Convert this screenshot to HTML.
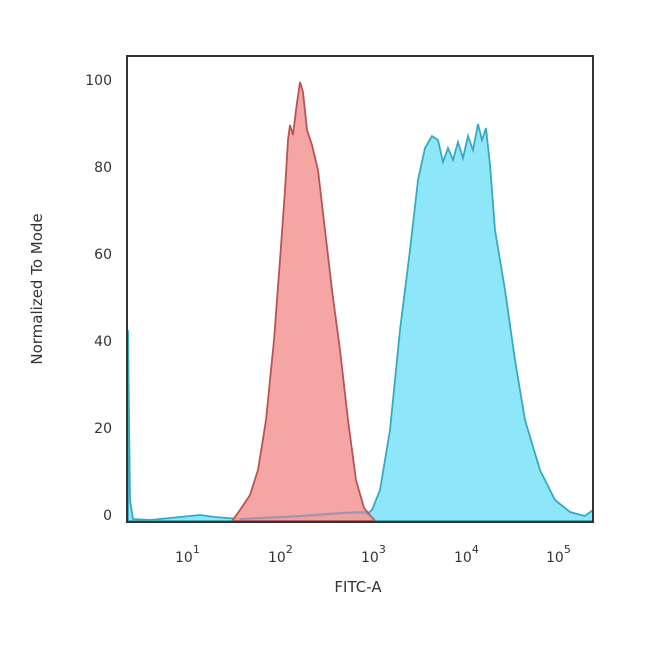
<!DOCTYPE html>
<html><head><style>body{margin:0;background:#fff}svg{display:block}text{font-family:"DejaVu Sans","Liberation Sans",sans-serif;fill:#333}</style></head>
<body>
<svg width="650" height="652" viewBox="0 0 650 652">
<!-- blue -->
<path d="M128,521 L128,330 L130,500 L133,519 L150,520 L170,518 L200,515 L215,517 L240,519 L280,518 L320,516 L350,513 L367,514 L372,510 L380,490 L390,430 L400,330 L410,250 L418,180 L425,148 L432,136 L438,140 L443,162 L448,148 L453,160 L458,142 L463,158 L468,136 L473,150 L478,124 L482,140 L486,128 L490,165 L495,230 L505,290 L515,360 L525,420 L540,470 L555,500 L570,512 L585,516 L593,510 L593,521 Z" fill="#8ee6f9" stroke="#3aa9be" stroke-width="1.8"/>
<!-- red -->
<path d="M232,521 L240,510 L250,495 L258,470 L266,420 L274,340 L280,260 L285,190 L288,140 L290,125 L293,135 L296,110 L300,82 L303,92 L307,130 L312,145 L318,170 L325,230 L332,290 L340,350 L348,420 L356,480 L364,508 L375,521 Z" fill="#f59b9b" fill-opacity="0.9" stroke="#b85454" stroke-width="1.8"/>
<path d="M240,519 L300,516 L340,513 L365,512 L375,520" fill="none" stroke="#7f8fb0" stroke-width="2" opacity="0.7"/>
<rect x="127" y="56" width="466" height="466" fill="none" stroke="#333" stroke-width="2"/>
<g font-size="14" text-anchor="end">
<text x="112" y="85">100</text><text x="112" y="172">80</text><text x="112" y="259">60</text><text x="112" y="346">40</text><text x="112" y="433">20</text><text x="112" y="520">0</text>
</g>
<g font-size="14">
<text x="175" y="562">10<tspan dy="-9" font-size="11">1</tspan></text>
<text x="268" y="562">10<tspan dy="-9" font-size="11">2</tspan></text>
<text x="361" y="562">10<tspan dy="-9" font-size="11">3</tspan></text>
<text x="454" y="562">10<tspan dy="-9" font-size="11">4</tspan></text>
<text x="546" y="562">10<tspan dy="-9" font-size="11">5</tspan></text>
</g>
<text x="358" y="592" font-size="15" text-anchor="middle">FITC-A</text>
<text transform="translate(42,289) rotate(-90)" font-size="15" text-anchor="middle">Normalized To Mode</text>
</svg>
</body></html>
